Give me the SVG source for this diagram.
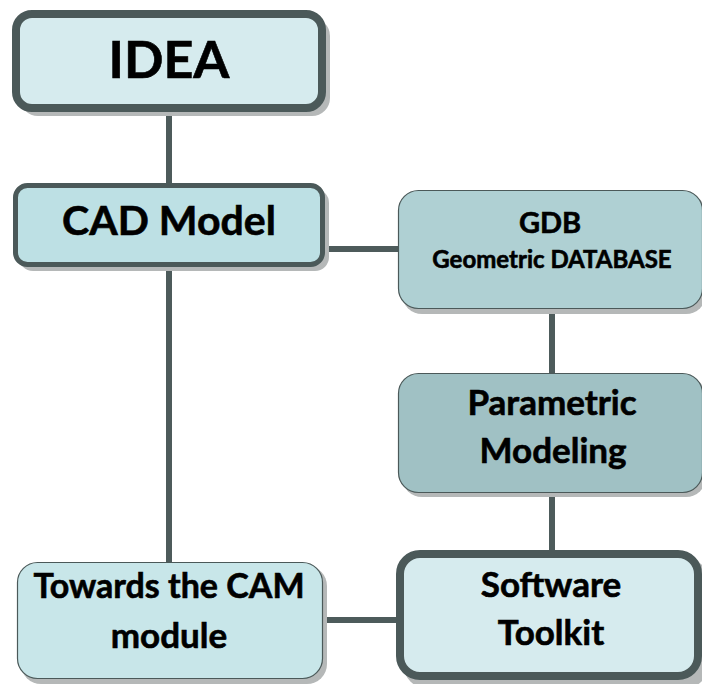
<svg xmlns="http://www.w3.org/2000/svg" width="702" height="684" viewBox="0 0 702 684">
<style>
.t{font-family:Lato,"Open Sans","Liberation Sans",sans-serif;font-weight:bold;fill:#000;stroke:#000;stroke-width:0.6;text-anchor:middle}
.sh{fill:#b5b8b8}
.c{stroke:#4d5b5b;stroke-width:6;fill:none}
</style>
<rect width="702" height="684" fill="#fff"/>
<g id="connectors">
<line class="c" x1="169" y1="108" x2="169" y2="186"/>
<line class="c" x1="169" y1="264" x2="169" y2="564"/>
<line class="c" x1="323" y1="249" x2="400" y2="249"/>
<line class="c" x1="552" y1="308" x2="552" y2="374"/>
<line class="c" x1="552" y1="492" x2="552" y2="554"/>
<line class="c" x1="322" y1="620" x2="399" y2="620"/>
</g>
<g id="idea">
<rect class="sh" x="20" y="18" width="310" height="98" rx="18"/>
<rect x="16" y="14" width="306" height="94" rx="16" fill="#d6ebee" stroke="#4b5959" stroke-width="8"/>
<text class="t" x="169" y="78" font-size="52">IDEA</text>
</g>
<g id="cad">
<rect class="sh" x="19" y="189" width="310" height="82" rx="14"/>
<rect x="15.5" y="185.5" width="307" height="79" rx="12" fill="#bde0e4" stroke="#4b5959" stroke-width="5"/>
<text class="t" x="169" y="235" font-size="41">CAD Model</text>
</g>
<g id="gdb">
<rect class="sh" x="402" y="194" width="304" height="120" rx="20"/>
<rect x="398.5" y="190.5" width="304" height="118" rx="20" fill="#afd0d3" stroke="#4b5959" stroke-width="1.2"/>
<text class="t" x="550" y="233" font-size="29">GDB</text>
<text class="t" x="552" y="268" font-size="24">Geometric DATABASE</text>
</g>
<g id="param">
<rect class="sh" x="402" y="377" width="304" height="120" rx="20"/>
<rect x="398.5" y="373.5" width="304" height="119" rx="20" fill="#a0c1c4" stroke="#4b5959" stroke-width="1.2"/>
<text class="t" x="552" y="415" font-size="35">Parametric</text>
<text class="t" x="553" y="463" font-size="35">Modeling</text>
</g>
<g id="towards">
<rect class="sh" x="21" y="566" width="306" height="118" rx="20"/>
<rect x="17.5" y="562.5" width="305" height="116" rx="20" fill="#c8e6e9" stroke="#4b5959" stroke-width="1.2"/>
<text class="t" x="169" y="598" font-size="34">Towards the CAM</text>
<text class="t" x="169" y="648" font-size="35">module</text>
</g>
<g id="software">
<rect class="sh" x="404" y="558" width="304" height="130" rx="22"/>
<rect x="400" y="554" width="298" height="122" rx="20" fill="#d6ebee" stroke="#4b5959" stroke-width="8"/>
<text class="t" x="551" y="597" font-size="35">Software</text>
<text class="t" x="551" y="645" font-size="35">Toolkit</text>
</g>
</svg>
